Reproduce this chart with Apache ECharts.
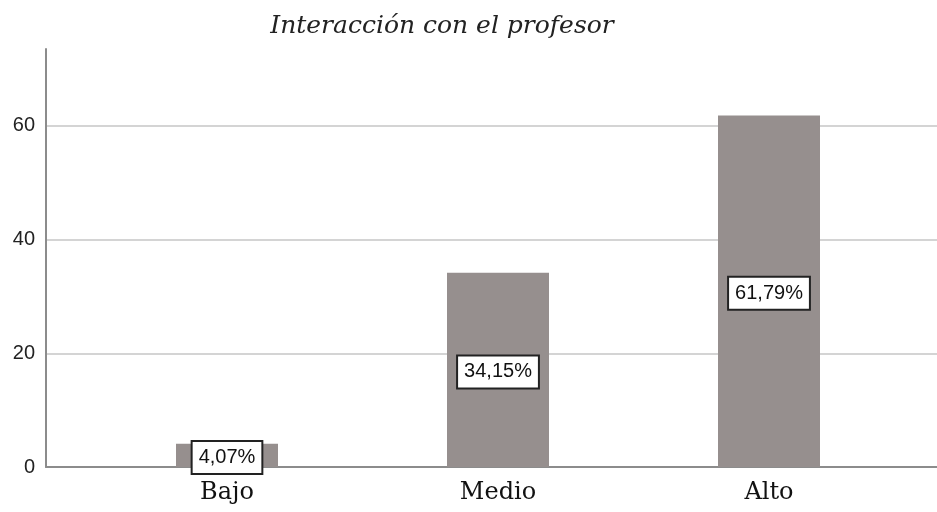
<!DOCTYPE html>
<html>
  <head>
    <meta charset="utf-8">
    <script src="https://cdn.jsdelivr.net/npm/echarts@6/dist/echarts.min.js"></script>
    <style>
      html, body { margin: 0; padding: 0; background: #fff; }
    </style>
  </head>
  <body>
    <div class="chart" style="width:937px;height:512px;"></div>
    <script>
      var titleText = 'Interacción con el profesor';
      var categories = ['Bajo', 'Medio', 'Alto'];
      var percents = [4.07, 34.15, 61.79];
      var yTicks = [0, 20, 40, 60];

      var yMax = 73.5;

      function pct(v) {
        return v.toFixed(2).replace('.', ',') + '%';
      }

      var chart = echarts.init(document.getElementsByClassName('chart')[0], null, { renderer: 'canvas' });

      chart.setOption({
        animation: false,
        backgroundColor: '#fff',
        title: {
          text: titleText,
          left: 437,
          top: 9,
          textAlign: 'center',
          textStyle: {
            fontFamily: 'DejaVu Serif',
            fontStyle: 'italic',
            fontWeight: 'normal',
            fontSize: 25,
            color: '#222'
          }
        },
        grid: [
          { left: 46, right: 0, top: 49, bottom: 45 },
          { left: 91.5, right: 32.5, top: 49, bottom: 45 }
        ],
        xAxis: [
          {
            gridIndex: 0, type: 'value', min: 0, max: 1,
            axisLine: { show: true, lineStyle: { color: '#8c8c8c', width: 2 } },
            axisTick: { show: false }, axisLabel: { show: false }, splitLine: { show: false }
          },
          {
            gridIndex: 1, type: 'category', data: categories,
            axisLine: { show: false }, axisTick: { show: false },
            axisLabel: {
              margin: 14,
              fontFamily: 'DejaVu Serif',
              fontSize: 24,
              color: '#111'
            }
          }
        ],
        yAxis: [
          {
            gridIndex: 0, type: 'value', min: 0, max: yMax, interval: 20,
            axisLine: { show: true, lineStyle: { color: '#8c8c8c', width: 2 } },
            axisTick: { show: false },
            axisLabel: {
              margin: 11,
              showMaxLabel: false,
              fontFamily: 'Liberation Sans',
              fontSize: 20,
              color: '#222',
              formatter: function (v) { return yTicks.indexOf(v) >= 0 ? String(v) : ''; }
            },
            splitLine: { show: true, showMaxLine: false, lineStyle: { color: '#c6c6c6', width: 1.5 } }
          },
          {
            gridIndex: 1, type: 'value', min: 0, max: yMax, show: false,
            splitLine: { show: false }
          }
        ],
        series: [{
          type: 'bar',
          xAxisIndex: 1,
          yAxisIndex: 1,
          data: percents,
          barWidth: 102,
          itemStyle: { color: '#968f8e' },
          label: {
            show: true,
            position: 'inside',
            offset: [0, 2],
            formatter: function (p) { return pct(p.value); },
            fontFamily: 'Liberation Sans',
            fontSize: 20,
            color: '#111',
            backgroundColor: '#fff',
            borderColor: '#222',
            borderWidth: 2,
            padding: [6, 6, 5, 6]
          }
        }]
      });
    </script>
  </body>
</html>
